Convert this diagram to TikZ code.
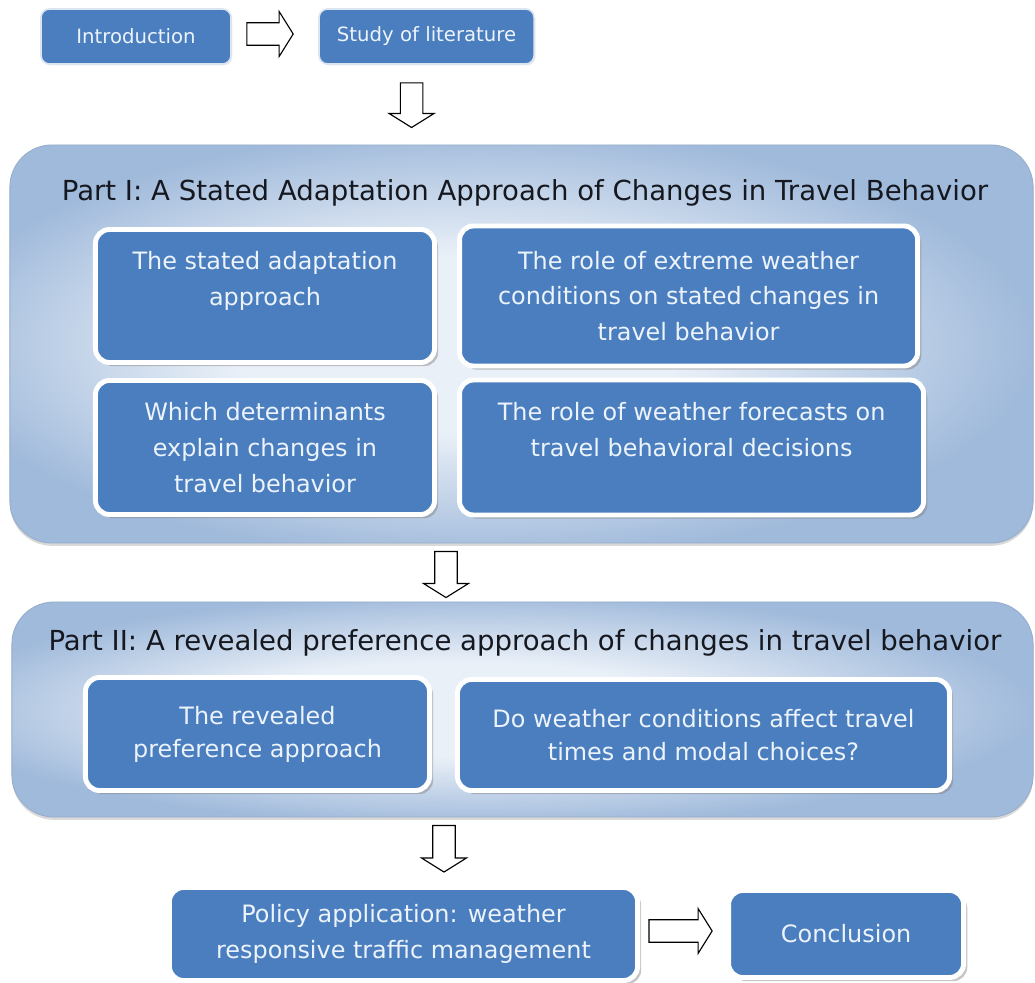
\documentclass[tikz,border=0pt]{standalone}
\usepackage{fontspec}
\setmainfont{DejaVu Sans}
\usetikzlibrary{shadows,calc}
\definecolor{boxblue}{RGB}{74,126,191}
\definecolor{boxtext}{RGB}{236,243,251}
\definecolor{partlight}{RGB}{234,240,248}
\definecolor{partdark}{RGB}{160,186,219}
\definecolor{partedge}{RGB}{150,172,202}
\definecolor{titletext}{RGB}{22,24,32}
\pgfdeclareradialshading{partglow}{\pgfpoint{-4bp}{0bp}}{color(0bp)=(partlight);
    color(11bp)=(partlight); color(27bp)=(partdark); color(50bp)=(partdark)}
\tikzstyle{part} = [rectangle, draw=partedge, line width=0.6pt,
    shade, shading=partglow, rounded corners=30pt,
    drop shadow={opacity=0.3, shadow xshift=0pt, shadow yshift=-2pt}]
\tikzstyle{parttitle} = [text=titletext, font=\fontsize{19.6}{22}\selectfont]
\tikzstyle{block} = [rectangle, draw=white, line width=3.5pt, fill=boxblue,
    rounded corners=10pt, text=boxtext, align=center,
    font=\fontsize{17}{25.5}\selectfont,
    drop shadow={opacity=0.45, shadow xshift=2.6pt, shadow yshift=-2.6pt}]
\tikzstyle{topblock} = [rectangle, draw=white!80!boxblue, line width=1.2pt,
    fill=boxblue, rounded corners=6pt, text=boxtext,
    font=\fontsize{14}{16}\selectfont,
    drop shadow={opacity=0.15, shadow xshift=1pt, shadow yshift=-1pt}]
\tikzstyle{flowarrow} = [draw, fill=white, line width=0.8pt]
% hollow block arrows between two points
\newcommand{\flowright}[2]{%
  \path [flowarrow] let \p1=(#1), \p2=(#2) in
    (\x1,\y1+8pt) -- (\x2-10pt,\y1+8pt) -- (\x2-10pt,\y1+16pt) -- (\x2,\y1)
    -- (\x2-10pt,\y1-16pt) -- (\x2-10pt,\y1-8pt) -- (\x1,\y1-8pt) -- cycle;}
\newcommand{\flowdown}[2]{%
  \path [flowarrow] let \p1=(#1), \p2=(#2) in
    (\x1-8pt,\y1) -- (\x1-8pt,\y2+10pt) -- (\x1-16pt,\y2+10pt) -- (\x1,\y2)
    -- (\x1+16pt,\y2+10pt) -- (\x1+8pt,\y2+10pt) -- (\x1+8pt,\y1) -- cycle;}

\begin{document}
\begin{tikzpicture} [x=0.025cm, y=-0.025cm, node distance=3.5cm]
    \useasboundingbox (0,0) rectangle (1035,983);
    % Nodes
    \node [topblock, minimum width=4.75cm, minimum height=1.375cm] (intro) at (136,36.5) {Introduction};
    \node [topblock, right of=intro, node distance=7.2625cm, minimum width=5.375cm, minimum height=1.375cm] (study) {Study of literature};
    \node [part, minimum width=25.575cm, minimum height=9.95cm] (partone) at (521.5,344) {};
    \node [parttitle] (titleone) at (525,193) {Part I: A Stated Adaptation Approach of Changes in Travel Behavior};
    \node [block, minimum width=8.475cm, minimum height=3.325cm] (adapt) at (265,296) {The stated adaptation\\approach\\~};
    \node [block, right of=adapt, node distance=10.5875cm, minimum width=11.45cm, minimum height=3.5cm] (extreme) {The role of extreme weather\\conditions on stated changes in\\travel behavior};
    \node [block, minimum width=8.475cm, minimum height=3.35cm] (determ) at (265,447.5) {Which determinants\\explain changes in\\travel behavior};
    \node [block, right of=determ, node distance=10.6625cm, minimum width=11.6cm, minimum height=3.375cm] (forecast) {The role of weather forecasts on\\travel behavioral decisions\\~};
    \node [part, minimum width=25.525cm, minimum height=5.375cm] (parttwo) at (522.5,709.5) {};
    \node [parttitle] (titletwo) at (525,643) {Part II: A revealed preference approach of changes in travel behavior};
    \node [block, font=\fontsize{17}{23.5}\selectfont, minimum width=8.6cm, minimum height=2.825cm] (revealed) at (257.5,734) {The revealed\\preference approach};
    \node [block, font=\fontsize{17}{23.5}\selectfont, minimum width=12.3cm, minimum height=2.775cm] (modal) at (703.5,735) {Do weather conditions affect travel\\times and modal choices?};
    \node [block, minimum width=11.7cm, minimum height=2.325cm] (policy) at (403.5,934) {Policy application: weather\\responsive traffic management};
    \node [block, right of=policy, node distance=11.0625cm, minimum width=5.875cm, minimum height=2.175cm] (conclusion) {Conclusion};
    % Paths
    \flowright{$(intro.east)+(15,-2.5)$}{$(study.west)+(-25,0)$}
    \flowdown{$(study.south)+(-15,18)$}{$(partone.north)+(0,-17)$}
    \flowdown{$(partone.south)+(-75.5,8)$}{$(parttwo.north)+(0,-4)$}
    \flowdown{$(parttwo.south)+(-78.5,8)$}{$(policy.north)+(0,-13)$}
    \flowright{$(policy.east)+(9,-3)$}{$(conclusion.west)+(-14,0)$}
\end{tikzpicture}
\end{document}
